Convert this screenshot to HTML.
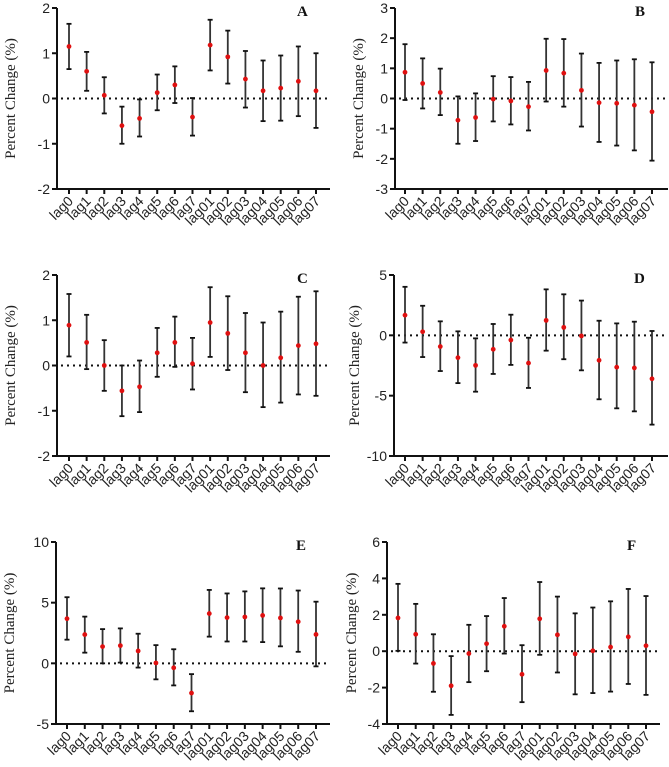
<!DOCTYPE html>
<html><head><meta charset="utf-8"><style>
html,body{margin:0;padding:0;background:#fff;}
svg{display:block;}
</style></head><body>
<svg id="chart" width="669" height="767" xmlns="http://www.w3.org/2000/svg"></svg>
<script>
const categories = ["lag0","lag1","lag2","lag3","lag4","lag5","lag6","lag7","lag01","lag02","lag03","lag04","lag05","lag06","lag07"];

const meanA = [1.15,0.6,0.07,-0.6,-0.44,0.13,0.3,-0.41,1.18,0.92,0.43,0.17,0.23,0.38,0.17];
const lowA  = [0.65,0.17,-0.33,-1.0,-0.84,-0.26,-0.1,-0.82,0.62,0.33,-0.2,-0.5,-0.49,-0.39,-0.65];
const highA = [1.65,1.03,0.47,-0.18,-0.02,0.53,0.71,0.01,1.74,1.5,1.05,0.84,0.95,1.15,1.0];

const meanB = [0.87,0.5,0.2,-0.72,-0.63,-0.02,-0.08,-0.27,0.93,0.84,0.27,-0.14,-0.16,-0.22,-0.44];
const lowB  = [-0.05,-0.33,-0.55,-1.5,-1.41,-0.76,-0.86,-1.06,-0.1,-0.27,-0.93,-1.44,-1.56,-1.72,-2.06];
const highB = [1.8,1.33,0.99,0.07,0.17,0.74,0.71,0.55,1.98,1.97,1.49,1.18,1.26,1.3,1.2];

const meanC = [0.89,0.51,0,-0.56,-0.47,0.28,0.51,0.04,0.95,0.71,0.28,0,0.17,0.44,0.48];
const lowC  = [0.2,-0.08,-0.56,-1.12,-1.03,-0.25,-0.03,-0.53,0.19,-0.1,-0.59,-0.92,-0.82,-0.64,-0.67];
const highC = [1.58,1.12,0.56,0,0.11,0.83,1.08,0.61,1.73,1.53,1.16,0.95,1.19,1.52,1.64];

const meanD = [1.67,0.3,-0.93,-1.85,-2.49,-1.16,-0.39,-2.3,1.24,0.66,-0.05,-2.07,-2.64,-2.7,-3.6];
const lowD  = [-0.6,-1.8,-2.96,-3.96,-4.67,-3.2,-2.45,-4.36,-1.27,-1.98,-2.9,-5.3,-6.05,-6.3,-7.4];
const highD = [4.02,2.45,1.16,0.33,-0.25,0.94,1.71,-0.2,3.81,3.4,2.88,1.21,0.99,1.13,0.36];

const meanE = [3.68,2.37,1.38,1.46,1.02,0.03,-0.37,-2.45,4.1,3.77,3.82,3.95,3.74,3.43,2.38];
const lowE  = [1.95,0.88,0,0.06,-0.35,-1.32,-1.82,-3.95,2.2,1.8,1.8,1.75,1.4,0.95,-0.25];
const highE = [5.45,3.85,2.82,2.88,2.44,1.5,1.16,-0.89,6.05,5.76,5.93,6.18,6.17,6.0,5.08];

const meanF = [1.83,0.93,-0.67,-1.9,-0.13,0.41,1.37,-1.27,1.78,0.9,-0.15,0.02,0.23,0.79,0.3];
const lowF  = [0.02,-0.68,-2.23,-3.5,-1.7,-1.1,-0.13,-2.8,-0.2,-1.17,-2.37,-2.3,-2.22,-1.8,-2.4];
const highF = [3.7,2.6,0.93,-0.27,1.45,1.93,2.92,0.33,3.8,3.0,2.08,2.4,2.74,3.42,3.03];

const ticksA = [-2,-1,0,1,2];
const ticksB = [-3,-2,-1,0,1,2,3];
const ticksC = [-2,-1,0,1,2];
const ticksD = [-10,-5,0,5];
const ticksE = [-5,0,5,10];
const ticksF = [-4,-2,0,2,4,6];

const panels = [
 {id:"A",mean:meanA,low:lowA,high:highA,ticks:ticksA,ax:57,top:8,bot:189,right:330,x0:69,x1:316,ylx:11},
 {id:"B",mean:meanB,low:lowB,high:highB,ticks:ticksB,ax:395,top:8,bot:189,right:668,x0:405,x1:652,ylx:359},
 {id:"C",mean:meanC,low:lowC,high:highC,ticks:ticksC,ax:57,top:275,bot:456,right:330,x0:69,x1:316,ylx:11},
 {id:"D",mean:meanD,low:lowD,high:highD,ticks:ticksD,ax:394,top:275,bot:456,right:668,x0:405,x1:652,ylx:355},
 {id:"E",mean:meanE,low:lowE,high:highE,ticks:ticksE,ax:56,top:542,bot:724,right:330,x0:67,x1:316,ylx:10},
 {id:"F",mean:meanF,low:lowF,high:highF,ticks:ticksF,ax:387,top:542,bot:724,right:660,x0:398,x1:646,ylx:352}
];

const NS="http://www.w3.org/2000/svg";
const svg=document.getElementById("chart");
function mk(tag,attrs,parent){const e=document.createElementNS(NS,tag);for(const k in attrs)e.setAttribute(k,attrs[k]);parent.appendChild(e);return e;}

panels.forEach(p=>{
  const g=mk("g",{},svg);
  
  
  const vmin=p.ticks[0], vmax=p.ticks[p.ticks.length-1];
  const y=v=>p.bot-(v-vmin)/(vmax-vmin)*(p.bot-p.top);
  const x=i=>p.x0+i*(p.x1-p.x0)/(categories.length-1);
  const ya=mk("line",{x1:p.ax,y1:p.top,x2:p.ax,y2:p.bot+1,stroke:"#111","stroke-width":2},g);
  
  
  const xa=mk("line",{x1:p.ax-1,y1:p.bot,x2:p.right,y2:p.bot,stroke:"#111","stroke-width":2},g);
  
  
  p.ticks.forEach(t=>{
    mk("line",{x1:p.ax-5,y1:y(t),x2:p.ax,y2:y(t),stroke:"#111","stroke-width":2},g);
    const tl=mk("text",{x:p.ax-7,y:y(t)+5,"text-anchor":"end","font-family":"Liberation Sans, sans-serif","font-size":14,fill:"#222"},g);
    tl.textContent=t;
    
    
  });
  const zl=mk("line",{x1:p.ax+4,y1:y(0),x2:p.right-2,y2:y(0),stroke:"#111","stroke-width":2,"stroke-dasharray":"2,4"},g);
  
  
  const yl=mk("text",{x:p.ylx,y:(p.top+p.bot)/2,transform:`rotate(-90 ${p.ylx} ${(p.top+p.bot)/2})`,"text-anchor":"middle","dominant-baseline":"central","font-family":"Liberation Serif, serif","font-size":15,fill:"#222"},g);
  yl.textContent="Percent Change (%)";
  
  
  const pl=mk("text",{x:p.ax+240,y:p.top+8,"font-family":"Liberation Serif, serif","font-weight":"bold","font-size":15,fill:"#111"},g);
  pl.textContent=p.id;
  
  
  categories.forEach((c,i)=>{
    const cx=x(i);
    mk("line",{x1:cx,y1:p.bot,x2:cx,y2:p.bot+5,stroke:"#111","stroke-width":2},g);
    const tx=cx+5, ty=p.bot+13;
    const lab=mk("text",{x:tx,y:ty,transform:`rotate(-45 ${tx} ${ty})`,"text-anchor":"end","font-family":"Liberation Sans, sans-serif","font-size":14,fill:"#222"},g);
    lab.textContent=c;
    
    
    const eg=mk("g",{},g);
    
    
    mk("line",{x1:cx,y1:y(p.low[i]),x2:cx,y2:y(p.high[i]),stroke:"#333","stroke-width":1.8},eg);
    mk("line",{x1:cx-2.5,y1:y(p.low[i]),x2:cx+2.5,y2:y(p.low[i]),stroke:"#111","stroke-width":1.8},eg);
    mk("line",{x1:cx-2.5,y1:y(p.high[i]),x2:cx+2.5,y2:y(p.high[i]),stroke:"#111","stroke-width":1.8},eg);
    const pt=mk("circle",{cx:cx,cy:y(p.mean[i]),r:2.4,fill:"#e01010"},eg);
    
    
  });
});
</script>
</body></html>
